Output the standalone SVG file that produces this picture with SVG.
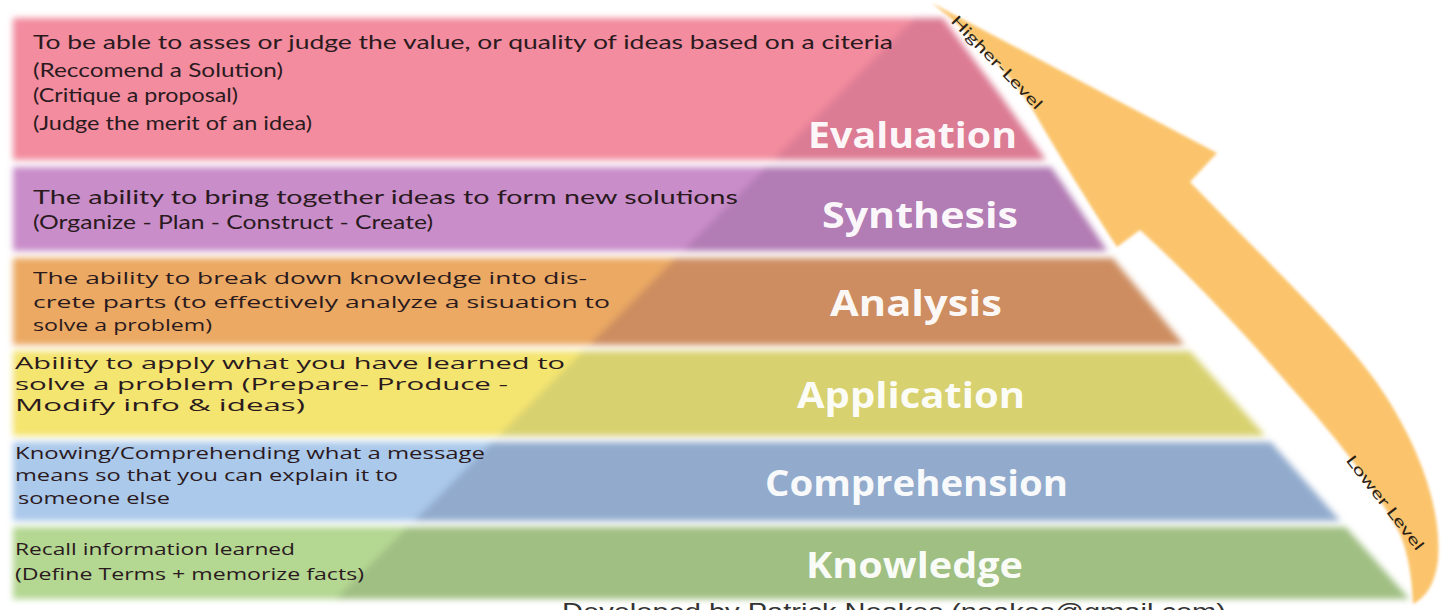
<svg xmlns="http://www.w3.org/2000/svg" width="1449" height="610" viewBox="0 0 1449 610">
  <defs>
    <style>
      .desc { font-family: "Lato", "Open Sans", sans-serif; font-size: 20px; fill: #2a1a1e; }
      .desc2 { font-family: "Open Sans", "Lato", sans-serif; font-size: 17px; fill: #2a1a1e; }
      .desc3 { font-family: "Open Sans", "Lato", sans-serif; font-size: 15.5px; fill: #2a1a1e; }
      .label { font-family: "Open Sans", "DejaVu Sans", sans-serif; font-weight: 700; font-size: 35px; fill: #ffffff; fill-opacity: 0.95; }
      .side { font-family: "Lato", "Open Sans", sans-serif; font-size: 15px; fill: #2a2014; }
      .credit { font-family: "Liberation Sans", Arial, sans-serif; font-size: 24px; fill: #333333; }
    </style>
    <!-- area left of the pyramid's right slope -->
    <clipPath id="area">
      <polygon points="0,0 930,0 1000,95 1060,180 1110,255 1180,340 1260,430 1335,515 1412,602 1412,610 0,610"/>
    </clipPath>
    <!-- the darker pyramid body -->
    <clipPath id="pyr">
      <polygon points="930,3 1000,95 1060,180 1110,255 1180,340 1260,430 1335,515 1412,602 333,602"/>
    </clipPath>
    <filter id="soft" x="-5%" y="-20%" width="110%" height="140%">
      <feGaussianBlur stdDeviation="3"/>
    </filter>
    <filter id="softer" x="-5%" y="-20%" width="110%" height="140%">
      <feGaussianBlur stdDeviation="1.5"/>
    </filter>
  </defs>

  <rect width="1449" height="610" fill="#ffffff"/>

  <!-- rising arrow beside the pyramid -->
  <g id="connectors">
    <path filter="url(#softer)" fill="#fbc46c" d="M 932,3 L 1217,153 L 1190,182 C 1260,255 1340,330 1377,383 C 1420,445 1442,510 1438,560 C 1435,585 1425,598 1413,604 C 1412,570 1405,540 1395,525 C 1370,480 1330,430 1287,383 C 1250,340 1200,285 1140,230 L 1117,247 C 1080,190 1050,140 1030,105 C 1000,60 960,25 932,3 Z"/>
    <text class="side" transform="translate(993,66) rotate(46)" text-anchor="middle" textLength="124" lengthAdjust="spacingAndGlyphs">Higher-Level</text>
    <text class="side" transform="translate(1381,506) rotate(52)" text-anchor="middle" textLength="116" lengthAdjust="spacingAndGlyphs">Lower Level</text>
  </g>

  <!-- Evaluation -->
  <g id="evaluation">
    <g filter="url(#soft)">
      <rect x="13" y="18" width="1420" height="142" fill="#f28c9e" clip-path="url(#area)"/>
      <rect x="13" y="18" width="1420" height="142" fill="#dc7b94" clip-path="url(#pyr)"/>
    </g>
    <text class="desc" x="33" y="49" textLength="860" lengthAdjust="spacingAndGlyphs">To be able to  asses or judge the value, or quality of ideas based on a citeria</text>
    <text class="desc" x="33" y="77" textLength="250" lengthAdjust="spacingAndGlyphs">(Reccomend a Solution)</text>
    <text class="desc" x="33" y="102" textLength="205" lengthAdjust="spacingAndGlyphs">(Critique a proposal)</text>
    <text class="desc" x="33" y="130" textLength="279" lengthAdjust="spacingAndGlyphs">(Judge the merit of an idea)</text>
    <text class="label" x="808" y="148" textLength="209" lengthAdjust="spacingAndGlyphs">Evaluation</text>
  </g>

  <!-- Synthesis -->
  <g id="synthesis">
    <g filter="url(#soft)">
      <rect x="13" y="167" width="1420" height="84" fill="#c98dc9" clip-path="url(#area)"/>
      <rect x="13" y="167" width="1420" height="84" fill="#b27bb4" clip-path="url(#pyr)"/>
    </g>
    <text class="desc" x="33" y="204" textLength="705" lengthAdjust="spacingAndGlyphs">The ability to bring together ideas to form new solutions</text>
    <text class="desc" x="33" y="229" textLength="400" lengthAdjust="spacingAndGlyphs">(Organize - Plan - Construct - Create)</text>
    <text class="label" x="822" y="228" textLength="196" lengthAdjust="spacingAndGlyphs">Synthesis</text>
  </g>

  <!-- Analysis -->
  <g id="analysis">
    <g filter="url(#soft)">
      <rect x="13" y="258" width="1420" height="87" fill="#eba964" clip-path="url(#area)"/>
      <rect x="13" y="258" width="1420" height="87" fill="#cd8d60" clip-path="url(#pyr)"/>
    </g>
    <text class="desc2" x="33" y="284" textLength="554" lengthAdjust="spacingAndGlyphs">The ability to break down knowledge into dis-</text>
    <text class="desc2" x="33" y="308" textLength="577" lengthAdjust="spacingAndGlyphs">crete parts (to effectively analyze a sisuation to</text>
    <text class="desc2" x="33" y="331" textLength="179" lengthAdjust="spacingAndGlyphs">solve a problem)</text>
    <text class="label" x="830" y="316" textLength="172" lengthAdjust="spacingAndGlyphs">Analysis</text>
  </g>

  <!-- Application -->
  <g id="application">
    <g filter="url(#soft)">
      <rect x="13" y="351" width="1420" height="85" fill="#f4e46f" clip-path="url(#area)"/>
      <rect x="13" y="351" width="1420" height="85" fill="#d8d16f" clip-path="url(#pyr)"/>
    </g>
    <text class="desc3" x="15" y="369" textLength="550" lengthAdjust="spacingAndGlyphs">Ability to apply what you have learned to</text>
    <text class="desc3" x="15" y="390" textLength="493" lengthAdjust="spacingAndGlyphs">solve a problem (Prepare- Produce -</text>
    <text class="desc3" x="15" y="411" textLength="290" lengthAdjust="spacingAndGlyphs">Modify info &amp; ideas)</text>
    <text class="label" x="797" y="408" textLength="228" lengthAdjust="spacingAndGlyphs">Application</text>
  </g>

  <!-- Comprehension -->
  <g id="comprehension">
    <g filter="url(#soft)">
      <rect x="13" y="442" width="1420" height="79" fill="#abc9eb" clip-path="url(#area)"/>
      <rect x="13" y="442" width="1420" height="79" fill="#92abcd" clip-path="url(#pyr)"/>
    </g>
    <text class="desc2" x="15" y="459" textLength="470" lengthAdjust="spacingAndGlyphs">Knowing/Comprehending what a message</text>
    <text class="desc2" x="15" y="481" textLength="383" lengthAdjust="spacingAndGlyphs">means so that you can explain it to</text>
    <text class="desc2" x="18" y="504" textLength="152" lengthAdjust="spacingAndGlyphs">someone else</text>
    <text class="label" x="765" y="496" textLength="303" lengthAdjust="spacingAndGlyphs">Comprehension</text>
  </g>

  <!-- Knowledge -->
  <g id="knowledge">
    <g filter="url(#soft)">
      <rect x="13" y="527" width="1420" height="72" fill="#b4d792" clip-path="url(#area)"/>
      <rect x="13" y="527" width="1420" height="72" fill="#a0bf83" clip-path="url(#pyr)"/>
    </g>
    <text class="desc2" x="15" y="555" textLength="280" lengthAdjust="spacingAndGlyphs">Recall information learned</text>
    <text class="desc2" x="15" y="580" textLength="349" lengthAdjust="spacingAndGlyphs">(Define Terms + memorize facts)</text>
    <text class="label" x="806" y="578" textLength="217" lengthAdjust="spacingAndGlyphs">Knowledge</text>
  </g>

  <!-- credit line, cut by the lower edge -->
  <text class="credit" x="562" y="620" textLength="664" lengthAdjust="spacingAndGlyphs">Developed by Patrick Noakes (noakes@gmail.com)</text>
</svg>
